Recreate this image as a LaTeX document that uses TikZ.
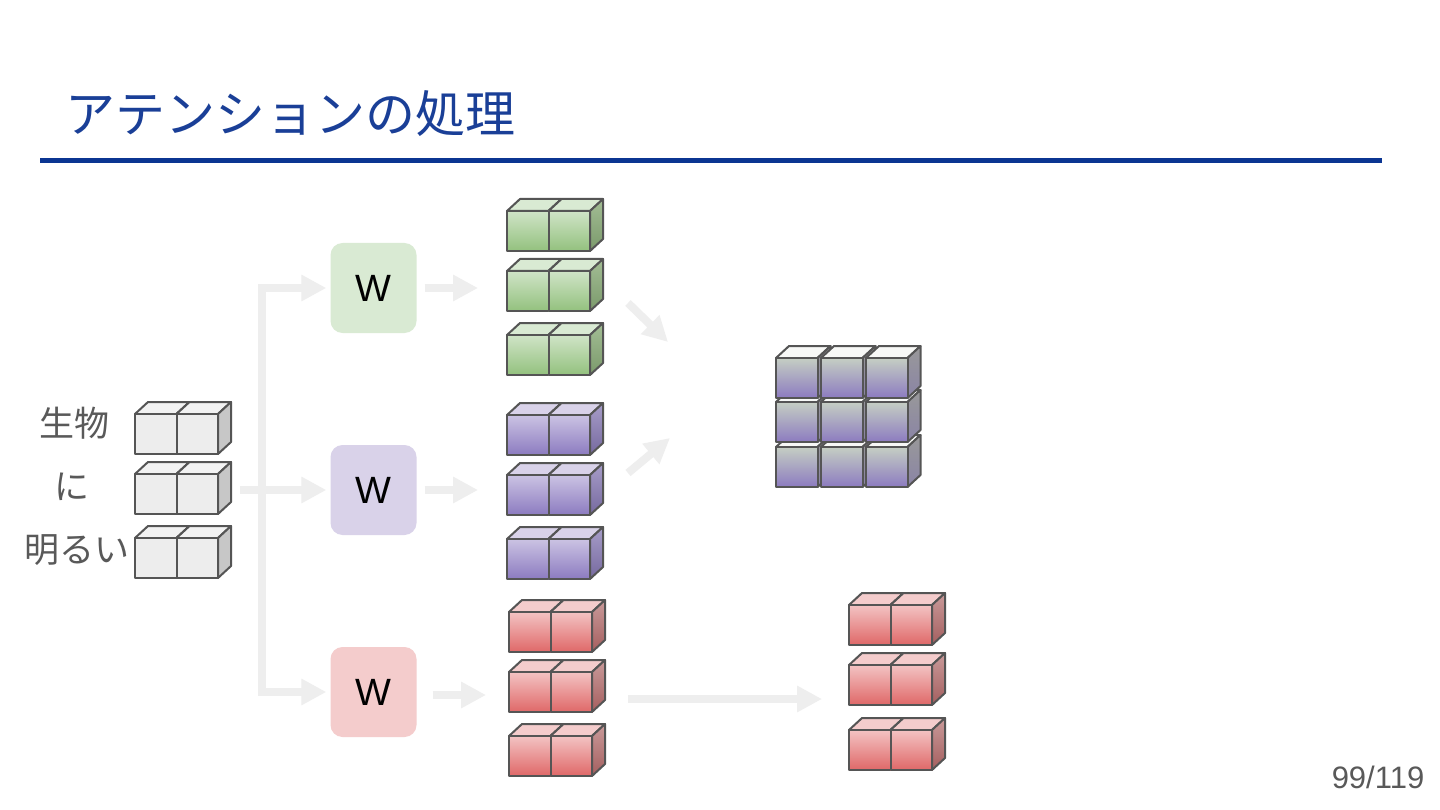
\documentclass[tikz,border=0pt]{standalone}
\usepackage{fontspec}
\setmainfont{Liberation Sans}
\newfontfamily\jpfont{Noto Sans CJK JP}
\usetikzlibrary{positioning,arrows.meta}
\definecolor{cTitle}{HTML}{1A3F97}
\definecolor{cRule}{HTML}{0B3592}
\definecolor{cInk}{HTML}{595959}
\definecolor{cEdge}{HTML}{555555}
\definecolor{cArr}{HTML}{EEEEEE}
\definecolor{cQ}{HTML}{D9EAD3}
\definecolor{cK}{HTML}{D9D2E9}
\definecolor{cV}{HTML}{F4CCCC}
% cube face colours
\definecolor{gA}{HTML}{D0E4C7}\definecolor{gB}{HTML}{93C17E}
\definecolor{gS}{HTML}{A3BD95}\definecolor{gT}{HTML}{7B9A6B}
\definecolor{pA}{HTML}{CBC3E3}\definecolor{pB}{HTML}{8C7BC0}
\definecolor{pS}{HTML}{A79DC8}\definecolor{pT}{HTML}{76699F}
\definecolor{rA}{HTML}{F3C3C3}\definecolor{rB}{HTML}{DF6868}
\definecolor{rS}{HTML}{C99A9A}\definecolor{rT}{HTML}{A55F5F}
\definecolor{mA}{HTML}{C5CEC3}\definecolor{mT}{HTML}{8A84A6}
\tikzset{
  edge/.style={draw=cEdge, line width=2pt, line join=round},
  wbox/.style={minimum width=86pt, minimum height=90pt, rounded corners=12pt,
               inner sep=0pt, font=\fontsize{38}{40}\selectfont},
  ar/.style={cArr, line width=8pt, -{Triangle[length=25pt,width=25pt]}},
  lab/.style={font=\jpfont\fontsize{35}{40}\selectfont, text=cInk},
  gfront/.style={top color=gA, bottom color=gB},
  gtop/.style={fill=cQ},
  gside/.style={top color=gS, bottom color=gT},
  pfront/.style={top color=pA, bottom color=pB},
  ptop/.style={fill=cK},
  pside/.style={top color=pS, bottom color=pT},
  rfront/.style={top color=rA, bottom color=rB},
  rtop/.style={fill=cV},
  rside/.style={top color=rS, bottom color=rT},
  nfront/.style={fill=black!7},
  ntop/.style={fill=black!5},
  nside/.style={fill=black!22},
  mfront/.style={top color=mA, bottom color=pB},
  mtop/.style={fill=cQ!80!black!10},
  mside/.style={top color=gray!80, bottom color=mT},
  pics/cube/.style={code={
    \path[edge,#1top] (0,0) -- (13,-12) -- (54.5,-12) -- (41.5,0) -- cycle;
    \path[edge,#1side] (41.5,0) -- (54.5,-12) -- (54.5,28) -- (41.5,40) -- cycle;
    \path[edge,#1front] (0,0) rectangle (41.5,40);
  }}
}
\begin{document}
\begin{tikzpicture}[x=1pt,y=-1pt]
\useasboundingbox[fill=white] (0,0) rectangle (1440,810);
\node[anchor=west, font=\jpfont\fontsize{50}{58}\selectfont, text=cTitle] (title) at (62,114) {アテンションの処理};
\coordinate (ruleL) at (40,161); \coordinate (ruleR) at (1382,161);
\draw[cRule, line width=5pt] (ruleL) -- (ruleR);

% input words
\node[lab] (w1) at (74,423) {生物};
\node[lab] (w2) at (72,487) {に};
\node[lab] (w3) at (77,550) {明るい};
\foreach \y in {414,474,538}{\foreach \i in {0,1}{\pic at ({135+41.5*\i},\y) {cube=n};}}

% weights
\node[wbox, fill=cQ] (wq) at (373.5,288) {W};
\node[wbox, fill=cK] (wk) at (373.5,490) {W};
\node[wbox, fill=cV] (wv) at (373.5,692) {W};

\coordinate (src) at (240,490);
\coordinate (split) at (262,490);
\draw[ar, shorten >=4pt] (src) -- (wk.west);
\draw[ar, shorten >=4pt] (split) |- (wq.west);
\draw[ar, shorten >=4pt] (split) |- (wv.west);

\coordinate (q-in) at (478,288);
\coordinate (k-in) at (478,490);
\coordinate (v-in) at (486,695);
\draw[ar, shorten <=8pt] (wq.east) -- (q-in);
\draw[ar, shorten <=8pt] (wk.east) -- (k-in);
\draw[ar, shorten <=16pt] (wv.east |- v-in) -- (v-in);

% q, k, v
\foreach \y in {211,271,335}{\foreach \i in {0,1}{\pic at ({507+41.5*\i},\y) {cube=g};}}
\foreach \y in {415,475,539}{\foreach \i in {0,1}{\pic at ({507+41.5*\i},\y) {cube=p};}}
\foreach \y in {612,672,736}{\foreach \i in {0,1}{\pic at ({509+41.5*\i},\y) {cube=r};}}

\coordinate (q-out) at (628,303); \coordinate (mix-a) at (668,342);
\coordinate (k-out) at (628,473); \coordinate (mix-b) at (670,438);
\coordinate (v-out) at (628,699); \coordinate (o-in) at (822,699);
\draw[ar] (q-out) -- (mix-a);
\draw[ar] (k-out) -- (mix-b);
\draw[ar] (v-out) -- (o-in);

% score matrix
\foreach \y in {447,402,358}{\foreach \i in {0,1,2}{\pic at ({776+45*\i},\y) {cube=m};}}

% output
\foreach \y in {605,665,730}{\foreach \i in {0,1}{\pic at ({849+41.5*\i},\y) {cube=r};}}

\node[font=\fontsize{31}{34}\selectfont, text=cInk] (page) at (1378,777) {99/119};
\end{tikzpicture}
\end{document}
